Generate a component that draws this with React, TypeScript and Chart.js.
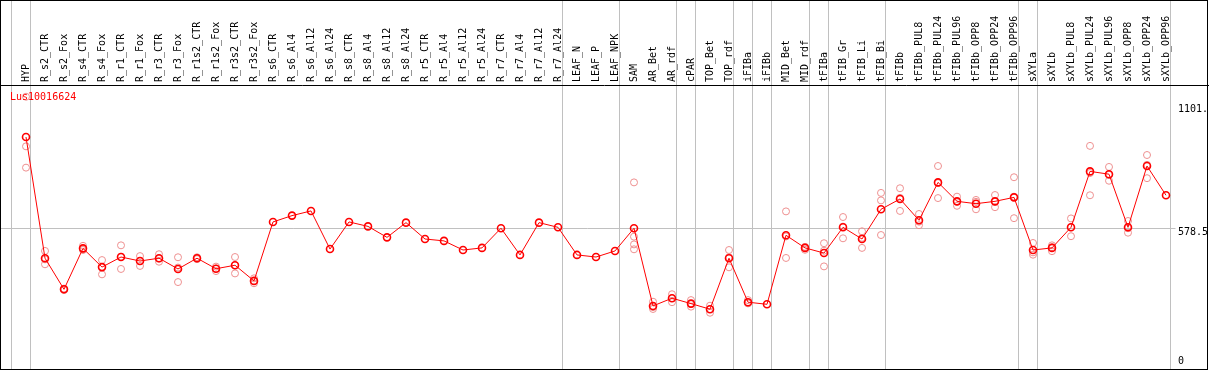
import React, { useEffect, useRef } from 'react';
import { Chart, registerables } from 'chart.js';

Chart.register(...registerables);

const geneId = 'Lus10016624';

const categories = [
  'HYP', 'R_s2_CTR', 'R_s2_Fox', 'R_s4_CTR', 'R_s4_Fox', 'R_r1_CTR', 'R_r1_Fox', 'R_r3_CTR', 'R_r3_Fox',
  'R_r1s2_CTR', 'R_r1s2_Fox', 'R_r3s2_CTR', 'R_r3s2_Fox', 'R_s6_CTR', 'R_s6_Al4', 'R_s6_Al12', 'R_s6_Al24',
  'R_s8_CTR', 'R_s8_Al4', 'R_s8_Al12', 'R_s8_Al24', 'R_r5_CTR', 'R_r5_Al4', 'R_r5_Al12', 'R_r5_Al24',
  'R_r7_CTR', 'R_r7_Al4', 'R_r7_Al12', 'R_r7_Al24', 'LEAF_N', 'LEAF_P', 'LEAF_NPK', 'SAM', 'AR_Bet', 'AR_rdf',
  'cPAR', 'TOP_Bet', 'TOP_rdf', 'iFIBa', 'iFIBb', 'MID_Bet', 'MID_rdf', 'tFIBa', 'tFIB_Gr', 'tFIB_Li', 'tFIB_Bi',
  'tFIBb', 'tFIBb_PUL8', 'tFIBb_PUL24', 'tFIBb_PUL96', 'tFIBb_OPP8', 'tFIBb_OPP24', 'tFIBb_OPP96',
  'sXYLa', 'sXYLb', 'sXYLb_PUL8', 'sXYLb_PUL24', 'sXYLb_PUL96', 'sXYLb_OPP8', 'sXYLb_OPP24', 'sXYLb_OPP96',
];

const meanValues = [
  968, 450, 317, 492, 412, 455, 438, 450, 404,
  450, 405, 420, 353, 605, 632, 652, 489,
  605, 586, 539, 602, 532, 524, 485, 494,
  578, 464, 602, 582, 464, 455, 481, 578, 246, 279,
  256, 232, 450, 262, 253, 548, 494, 472, 582, 532, 659,
  703, 612, 774, 693, 683, 693, 710,
  485, 494, 582, 821, 809, 582, 844, 719,
];

const replicate1 = [
  1140, 481, 320, 503, 442, 505, 459, 467, 454,
  454, 414, 455, 364, null, null, null, null,
  null, null, null, null, null, null, null, null,
  null, null, null, null, null, null, null, 774, 264, 296,
  271, 247, 485, 271, null, 650, 498, 514, 626, 565, 729,
  749, 639, 844, 713, 699, 720, 796,
  515, 505, 620, 930, 840, 609, 891, null,
];

const replicate2 = [
  928, 424, 314, 485, 381, 404, 417, 435, 348,
  446, 395, 385, 343, null, null, null, null,
  null, null, null, null, null, null, null, null,
  null, null, null, null, null, null, null, 542, 233, 262,
  243, 217, 411, 257, null, 451, 486, 415, 535, 494, 549,
  652, 591, 707, 674, 659, 668, 621,
  465, 480, 544, 719, 781, 559, 792, null,
];

const replicate3 = [
  837, 445, 317, 488, 412, 456, 438, 448, 410,
  450, 406, 420, 352, null, null, null, null,
  null, null, null, null, null, null, null, null,
  null, null, null, null, null, null, null, 509, 241, 279,
  254, 232, 454, 258, null, 543, 498, 482, 585, 537, 697,
  708, 606, 771, 692, 691, 691, 713,
  475, 497, 582, 814, 806, 578, 849, null,
];

const replicate4 = categories.map((c) => (c === 'SAM' ? 488 : null));

// group separators are drawn after these category indices
const separatorsAfter = [-1, 0, 28, 31, 34, 35, 37, 38, 39, 41, 42, 45, 52, 53, 60];

const yMin = -23.5;
const yMax = 1185.9;
const yTickValues = [0, 578.5, 1101];
const yTickLabels = ['0', '578.5', '1101.'];
const midLineValue = 578.5;

const FONT = '10px "DejaVu Sans Mono", monospace';

const decorPlugin = {
  id: 'decor',
  beforeDatasetsDraw(chart: any) {
    const { ctx, chartArea, scales } = chart;
    const xs = scales.x;
    const ys = scales.y;
    const step = xs.getPixelForValue(1) - xs.getPixelForValue(0);
    const x0 = xs.getPixelForValue(0);
    ctx.save();
    ctx.strokeStyle = '#c0c0c0';
    ctx.lineWidth = 1;
    separatorsAfter.forEach((i) => {
      const px = Math.floor(x0 + i * step + step * 0.25) + 0.5;
      ctx.beginPath();
      ctx.moveTo(px, 0);
      ctx.lineTo(px, chart.height);
      ctx.stroke();
    });
    const py = Math.floor(ys.getPixelForValue(midLineValue)) + 0.5;
    ctx.beginPath();
    ctx.moveTo(0, py);
    ctx.lineTo(chartArea.right, py);
    ctx.stroke();
    ctx.restore();
  },
  afterDraw(chart: any) {
    const { ctx, chartArea, scales } = chart;
    const ys = scales.y;
    ctx.save();
    ctx.strokeStyle = '#000';
    ctx.lineWidth = 1;
    ctx.strokeRect(0.5, 0.5, chart.width - 2, chart.height - 1);
    ctx.beginPath();
    ctx.moveTo(0, chartArea.top - 0.5);
    ctx.lineTo(chart.width, chartArea.top - 0.5);
    ctx.stroke();

    ctx.font = FONT;
    ctx.fillStyle = '#ff0000';
    ctx.textAlign = 'left';
    ctx.textBaseline = 'middle';
    ctx.fillText(geneId, 10, chartArea.top + 11.5);

    ctx.fillStyle = '#000';
    yTickValues.forEach((v, k) => {
      const p = Math.min(ys.getPixelForValue(v) + 4, chartArea.bottom - 7.7);
      ctx.fillText(yTickLabels[k], chartArea.right + 2.5, p);
    });
    ctx.restore();
  },
};

const repStyle = {
  type: 'line' as const,
  showLine: false,
  pointRadius: 3.5,
  pointBorderWidth: 1,
  pointBorderColor: '#ee9090',
  pointBackgroundColor: 'rgba(0,0,0,0)',
  borderColor: '#ee9090',
};

export default function App() {
  const ref = useRef<HTMLCanvasElement | null>(null);

  useEffect(() => {
    document.body.style.margin = '0';
    const canvas = ref.current;
    if (!canvas) return;
    const chart = new Chart(canvas, {
      type: 'line',
      data: {
        labels: categories,
        datasets: [
          {
            label: 'mean',
            data: meanValues,
            borderColor: '#ff0000',
            borderWidth: 1,
            pointRadius: 3.5,
            pointBorderWidth: 1.6,
            pointBorderColor: '#ff0000',
            pointBackgroundColor: 'rgba(0,0,0,0)',
            tension: 0,
          },
          { label: 'rep1', data: replicate1, ...repStyle },
          { label: 'rep2', data: replicate2, ...repStyle },
          { label: 'rep3', data: replicate3, ...repStyle },
          { label: 'rep4', data: replicate4, ...repStyle },
        ],
      },
      options: {
        responsive: false,
        animation: false,
        devicePixelRatio: 1,
        layout: { autoPadding: false, padding: { left: 16.5, right: 0, top: 0, bottom: 1 } },
        plugins: { legend: { display: false }, tooltip: { enabled: false }, title: { display: false } },
        scales: {
          x: {
            type: 'category',
            position: 'top',
            offset: true,
            grid: { display: false, drawTicks: false },
            border: { display: false },
            ticks: {
              autoSkip: false,
              minRotation: 90,
              maxRotation: 90,
              padding: 4,
              labelOffset: 12,
              color: '#000',
              font: { family: '"DejaVu Sans Mono", monospace', size: 10 },
            },
            afterFit: (s: any) => {
              s.height = 86;
            },
          },
          y: {
            position: 'right',
            min: yMin,
            max: yMax,
            grid: { display: false, drawTicks: false },
            border: { display: false },
            ticks: { display: false },
            afterFit: (s: any) => {
              s.width = 33.5;
            },
          },
        },
      },
      plugins: [decorPlugin],
    });
    return () => chart.destroy();
  }, []);

  return <canvas ref={ref} width={1209} height={370} style={{ display: 'block' }} />;
}
